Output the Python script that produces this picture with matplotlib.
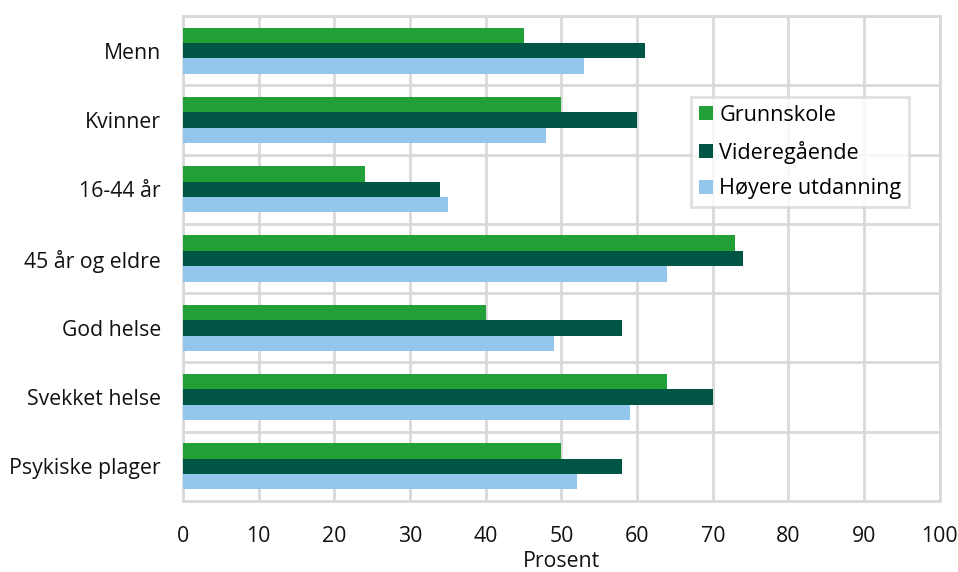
import matplotlib
matplotlib.use('Agg')

import numpy as np
import matplotlib.pyplot as plt
from matplotlib.ticker import MultipleLocator

plt.rcParams['font.family'] = ['Open Sans', 'DejaVu Sans']

# -------------------
# Data (percent)
# -------------------
categories = ['Menn', 'Kvinner', '16-44 år', '45 år og eldre',
              'God helse', 'Svekket helse', 'Psykiske plager']
grunnskole = [45, 50, 24, 73, 40, 64, 50]
videregaende = [61, 60, 34, 74, 58, 70, 58]
hoyere = [53, 48, 35, 64, 49, 59, 52]

series = [('Grunnskole', grunnskole, '#21a038'),
          ('Videregående', videregaende, '#005544'),
          ('Høyere utdanning', hoyere, '#93c6ec')]

fig = plt.figure(figsize=(9.58, 5.72), dpi=100)
ax = fig.add_axes([0.191, 0.124, 0.790, 0.848])

y = np.arange(len(categories))
h = 0.222
for i, (name, vals, col) in enumerate(series):
    ax.barh(y + (i - 1) * h, vals, height=h, color=col, label=name, zorder=3)

ax.set_xlim(0, 100)
ax.set_ylim(len(categories) - 0.5, -0.5)
ax.xaxis.set_major_locator(MultipleLocator(10))
ax.set_yticks(y)
ax.set_yticklabels(categories)
ax.set_yticks(np.arange(len(categories) + 1) - 0.5, minor=True)

grid_col = '#d9d9d9'
ax.grid(axis='x', which='major', color=grid_col, linewidth=2, zorder=0)
ax.grid(axis='y', which='minor', color=grid_col, linewidth=2, zorder=0)
for s in ax.spines.values():
    s.set_color(grid_col)
    s.set_linewidth(2)

fs = 15.3
ax.tick_params(which='both', length=0, labelsize=fs, colors='#111111')
ax.tick_params(axis='x', pad=18)
ax.tick_params(axis='y', pad=16)
ax.set_xlabel('Prosent', fontsize=fs, color='#111111', labelpad=3)

leg = ax.legend(loc='upper left', bbox_to_anchor=(0.671, 0.833), fontsize=15.6,
                frameon=True, fancybox=False, edgecolor=grid_col,
                borderaxespad=0, handlelength=0.66, handleheight=0.62,
                handletextpad=0.3, labelspacing=0.68, borderpad=0.36)
leg.get_frame().set_linewidth(2)
leg.set_zorder(5)

fig.savefig('out.png', dpi=100)
